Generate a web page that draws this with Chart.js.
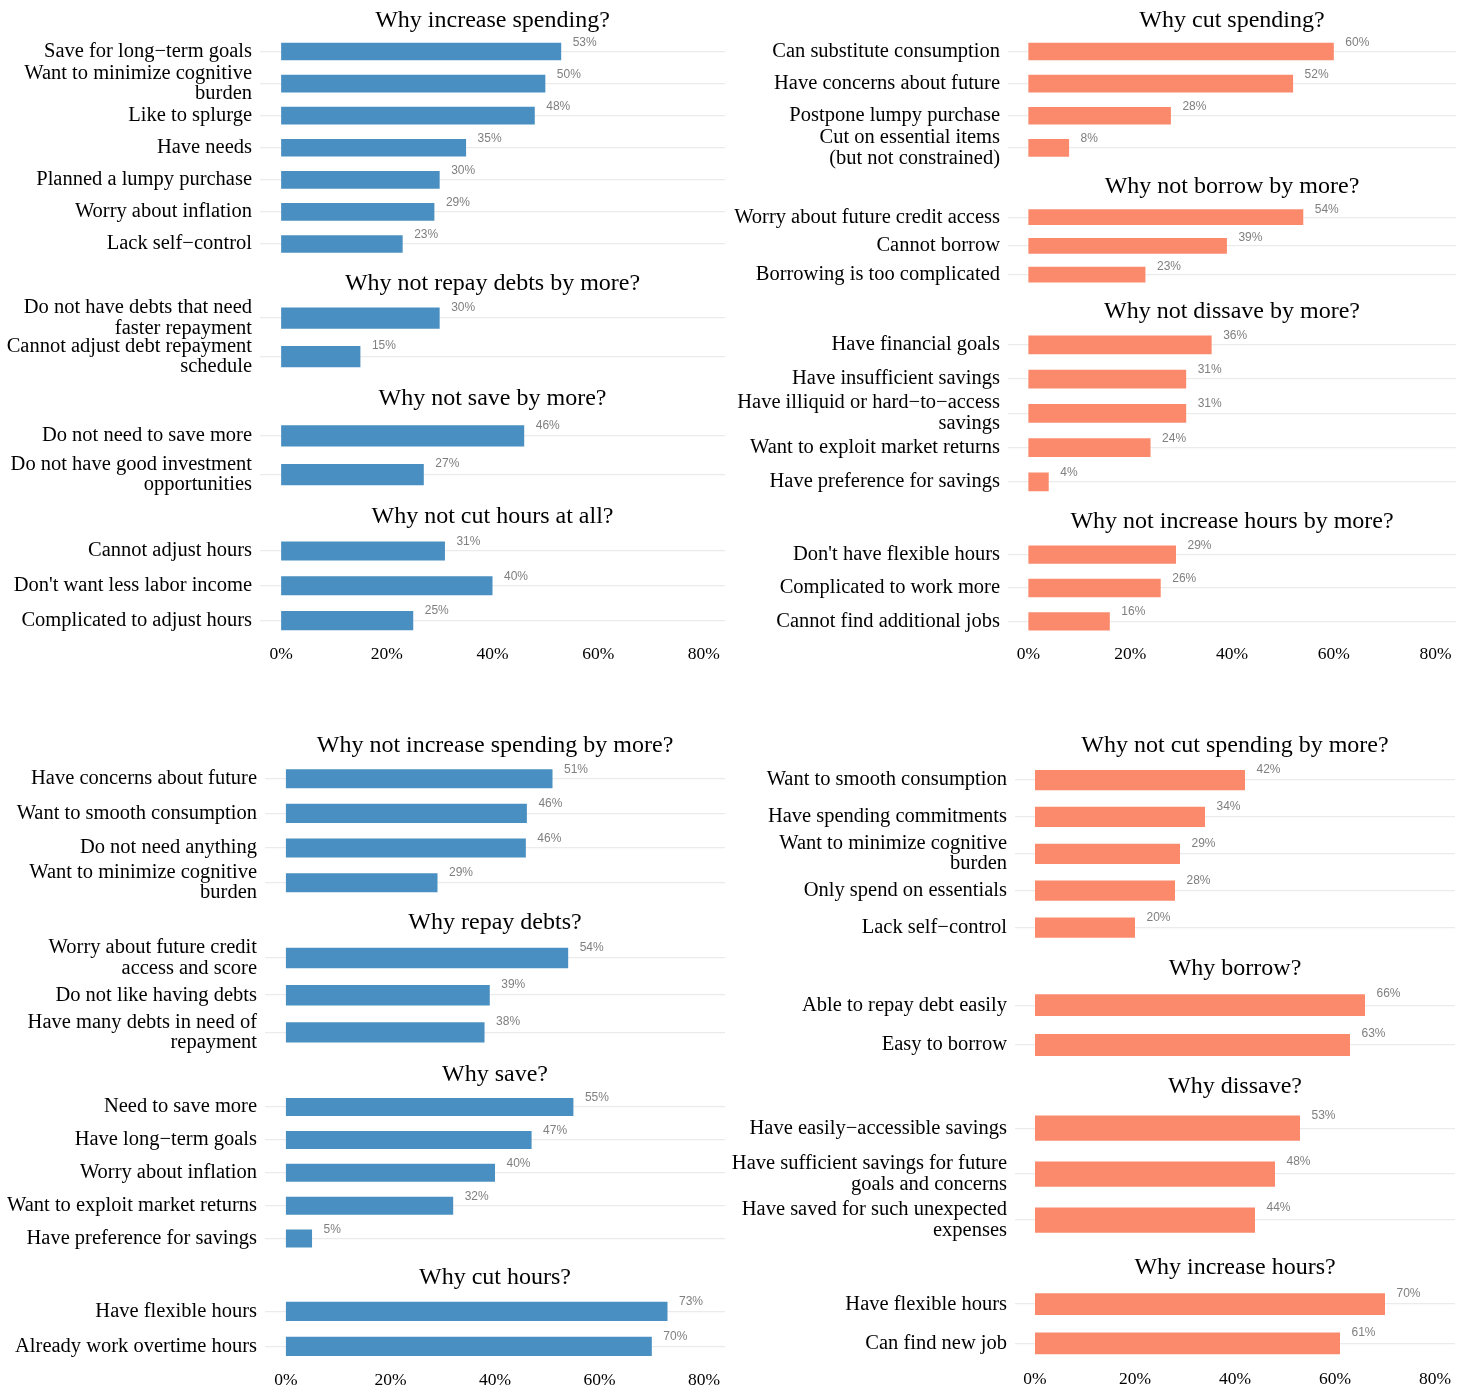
<!DOCTYPE html>
<html>
<head>
<meta charset="utf-8">
<script src="https://cdn.jsdelivr.net/npm/chart.js@4.4.1/dist/chart.umd.min.js"></script>
<style>
  body { margin: 0; background: #fff; }
  #page { position: relative; width: 1468px; height: 1390px; overflow: hidden; background: #fff; }
  #page canvas { position: absolute; }
</style>
</head>
<body>
<div id="page"></div>
<script>
'use strict';

// ---- data (percent of respondents) ----
const xTickValues = [0, 20, 40, 60, 80];

// top left
const incSpendLabels = ['Save for long\u2212term goals', ['Want to minimize cognitive', 'burden'], 'Like to splurge', 'Have needs', 'Planned a lumpy purchase', 'Worry about inflation', 'Lack self\u2212control'];
const incSpendValues = [53, 50, 48, 35, 30, 29, 23];
const noRepayMoreLabels = [['Do not have debts that need', 'faster repayment'], ['Cannot adjust debt repayment', 'schedule']];
const noRepayMoreValues = [30, 15];
const noSaveMoreLabels = ['Do not need to save more', ['Do not have good investment', 'opportunities']];
const noSaveMoreValues = [46, 27];
const noCutHoursLabels = ['Cannot adjust hours', "Don't want less labor income", 'Complicated to adjust hours'];
const noCutHoursValues = [31, 40, 25];

// top right
const cutSpendLabels = ['Can substitute consumption', 'Have concerns about future', 'Postpone lumpy purchase', ['Cut on essential items', '(but not constrained)']];
const cutSpendValues = [60, 52, 28, 8];
const noBorrowMoreLabels = ['Worry about future credit access', 'Cannot borrow', 'Borrowing is too complicated'];
const noBorrowMoreValues = [54, 39, 23];
const noDissaveMoreLabels = ['Have financial goals', 'Have insufficient savings', ['Have illiquid or hard\u2212to\u2212access', 'savings'], 'Want to exploit market returns', 'Have preference for savings'];
const noDissaveMoreValues = [36, 31, 31, 24, 4];
const noIncHoursMoreLabels = ["Don't have flexible hours", 'Complicated to work more', 'Cannot find additional jobs'];
const noIncHoursMoreValues = [29, 26, 16];

// bottom left
const noIncSpendMoreLabels = ['Have concerns about future', 'Want to smooth consumption', 'Do not need anything', ['Want to minimize cognitive', 'burden']];
const noIncSpendMoreValues = [51, 46.1, 45.9, 29];
const repayLabels = [['Worry about future credit', 'access and score'], 'Do not like having debts', ['Have many debts in need of', 'repayment']];
const repayValues = [54, 39, 38];
const saveLabels = ['Need to save more', 'Have long\u2212term goals', 'Worry about inflation', 'Want to exploit market returns', 'Have preference for savings'];
const saveValues = [55, 47, 40, 32, 5];
const cutHoursLabels = ['Have flexible hours', 'Already work overtime hours'];
const cutHoursValues = [73, 70];

// bottom right
const noCutSpendMoreLabels = ['Want to smooth consumption', 'Have spending commitments', ['Want to minimize cognitive', 'burden'], 'Only spend on essentials', 'Lack self\u2212control'];
const noCutSpendMoreValues = [42, 34, 29, 28, 20];
const borrowLabels = ['Able to repay debt easily', 'Easy to borrow'];
const borrowValues = [66, 63];
const dissaveLabels = ['Have easily\u2212accessible savings', ['Have sufficient savings for future', 'goals and concerns'], ['Have saved for such unexpected', 'expenses']];
const dissaveValues = [53, 48, 44];
const incHoursLabels = ['Have flexible hours', 'Can find new job'];
const incHoursValues = [70, 61];

// ---- layout ----
const blue = '#4a8fc1';
const salmon = '#fb8a6d';
const serif = '"Liberation Serif", "Times New Roman", serif';

const quads = {
  tl: { left: 0, right: 725, axisW: 260, color: blue },
  tr: { left: 730, right: 1456, axisW: 278, color: salmon },
  bl: { left: 0, right: 725, axisW: 265, color: blue },
  br: { left: 730, right: 1455, axisW: 285, color: salmon }
};

// titleY = title baseline, top/bottom = plot band edges
const panels = [
  { quad: 'tl', title: 'Why increase spending?', labels: incSpendLabels, values: incSpendValues, titleY: 26.7, top: 35.5, bottom: 259.5 },
  { quad: 'tl', title: 'Why not repay debts by more?', labels: noRepayMoreLabels, values: noRepayMoreValues, titleY: 290, top: 298.8, bottom: 376.4 },
  { quad: 'tl', title: 'Why not save by more?', labels: noSaveMoreLabels, values: noSaveMoreValues, titleY: 405, top: 416.6, bottom: 494.2 },
  { quad: 'tl', title: 'Why not cut hours at all?', labels: noCutHoursLabels, values: noCutHoursValues, titleY: 523, top: 533.6, bottom: 638.1, axis: true },

  { quad: 'tr', title: 'Why cut spending?', labels: cutSpendLabels, values: cutSpendValues, titleY: 26.7, top: 35.4, bottom: 164.1 },
  { quad: 'tr', title: 'Why not borrow by more?', labels: noBorrowMoreLabels, values: noBorrowMoreValues, titleY: 192.7, top: 202.8, bottom: 289.1 },
  { quad: 'tr', title: 'Why not dissave by more?', labels: noDissaveMoreLabels, values: noDissaveMoreValues, titleY: 318.3, top: 327.7, bottom: 498.9 },
  { quad: 'tr', title: 'Why not increase hours by more?', labels: noIncHoursMoreLabels, values: noIncHoursMoreValues, titleY: 528.3, top: 538, bottom: 638, axis: true },

  { quad: 'bl', title: 'Why not increase spending by more?', labels: noIncSpendMoreLabels, values: noIncSpendMoreValues, titleY: 752.3, top: 761.4, bottom: 899.8 },
  { quad: 'bl', title: 'Why repay debts?', labels: repayLabels, values: repayValues, titleY: 929, top: 939.3, bottom: 1051.4 },
  { quad: 'bl', title: 'Why save?', labels: saveLabels, values: saveValues, titleY: 1080.7, top: 1090.6, bottom: 1254.9 },
  { quad: 'bl', title: 'Why cut hours?', labels: cutHoursLabels, values: cutHoursValues, titleY: 1284, top: 1293.9, bottom: 1363.7, axis: true },

  { quad: 'br', title: 'Why not cut spending by more?', labels: noCutSpendMoreLabels, values: noCutSpendMoreValues, titleY: 752.3, top: 761.6, bottom: 945.6 },
  { quad: 'br', title: 'Why borrow?', labels: borrowLabels, values: borrowValues, titleY: 975, top: 985.2, bottom: 1064.5 },
  { quad: 'br', title: 'Why dissave?', labels: dissaveLabels, values: dissaveValues, titleY: 1093.3, top: 1105.2, bottom: 1243.3 },
  { quad: 'br', title: 'Why increase hours?', labels: incHoursLabels, values: incHoursValues, titleY: 1274, top: 1284.5, bottom: 1363.2, axis: true }
];

// panel title centred over the plot area
const panelTitle = {
  id: 'panelTitle',
  afterDraw(chart, args, opts) {
    const a = chart.chartArea;
    const ctx = chart.ctx;
    ctx.save();
    ctx.font = '24px ' + serif;
    ctx.fillStyle = '#000';
    ctx.textAlign = 'center';
    ctx.textBaseline = 'alphabetic';
    ctx.fillText(opts.text, (a.left + a.right) / 2, opts.y);
    ctx.restore();
  }
};

// small grey percent labels just past the bar end
const barValues = {
  id: 'barValues',
  afterDatasetsDraw(chart) {
    const ctx = chart.ctx;
    const vals = chart.data.datasets[0].data;
    ctx.save();
    ctx.font = '12px "Liberation Sans", Arial, sans-serif';
    ctx.fillStyle = '#7f7f7f';
    ctx.textAlign = 'left';
    ctx.textBaseline = 'middle';
    chart.getDatasetMeta(0).data.forEach((bar, i) => {
      ctx.fillText(Math.round(vals[i]) + '%', bar.x + 11.5, bar.y - bar.height / 2);
    });
    ctx.restore();
  }
};

function drawPanel(p) {
  const q = quads[p.quad];
  const axisH = p.axis ? 30 : 0;
  const padBottom = p.axis ? 10 : 36;
  const top = Math.round(p.titleY - 28);
  const height = Math.round(p.bottom + padBottom + axisH - top);

  const canvas = document.createElement('canvas');
  canvas.width = q.right - q.left;
  canvas.height = height;
  canvas.style.left = q.left + 'px';
  canvas.style.top = top + 'px';
  document.getElementById('page').appendChild(canvas);

  new Chart(canvas, {
    type: 'bar',
    data: {
      labels: p.labels,
      datasets: [{
        data: p.values,
        backgroundColor: q.color,
        barPercentage: 0.55,
        categoryPercentage: 1
      }]
    },
    options: {
      indexAxis: 'y',
      responsive: false,
      animation: false,
      layout: { padding: { top: p.top - top, bottom: padBottom, left: 0, right: 0 } },
      plugins: {
        legend: { display: false },
        tooltip: { enabled: false },
        panelTitle: { text: p.title, y: p.titleY - top }
      },
      scales: {
        x: {
          type: 'linear',
          min: -4,
          max: 84,
          display: !!p.axis,
          grid: { display: false },
          border: { display: false },
          afterBuildTicks: s => { s.ticks = xTickValues.map(v => ({ value: v })); },
          afterFit: s => { s.height = axisH; },
          ticks: {
            padding: -2.5,
            color: '#000',
            font: { family: serif, size: 17.5 },
            callback: v => v + '%'
          }
        },
        y: {
          type: 'category',
          offset: true,
          afterFit: s => { s.width = q.axisW; },
          grid: { offset: false, color: '#ebebeb', lineWidth: 1.3, drawTicks: false },
          border: { display: false },
          ticks: {
            autoSkip: false,
            padding: 8,
            color: '#000',
            font: { family: serif, size: 20.5, lineHeight: 1.0 }
          }
        }
      }
    },
    plugins: [panelTitle, barValues]
  });
}

panels.forEach(drawPanel);
</script>
</body>
</html>
